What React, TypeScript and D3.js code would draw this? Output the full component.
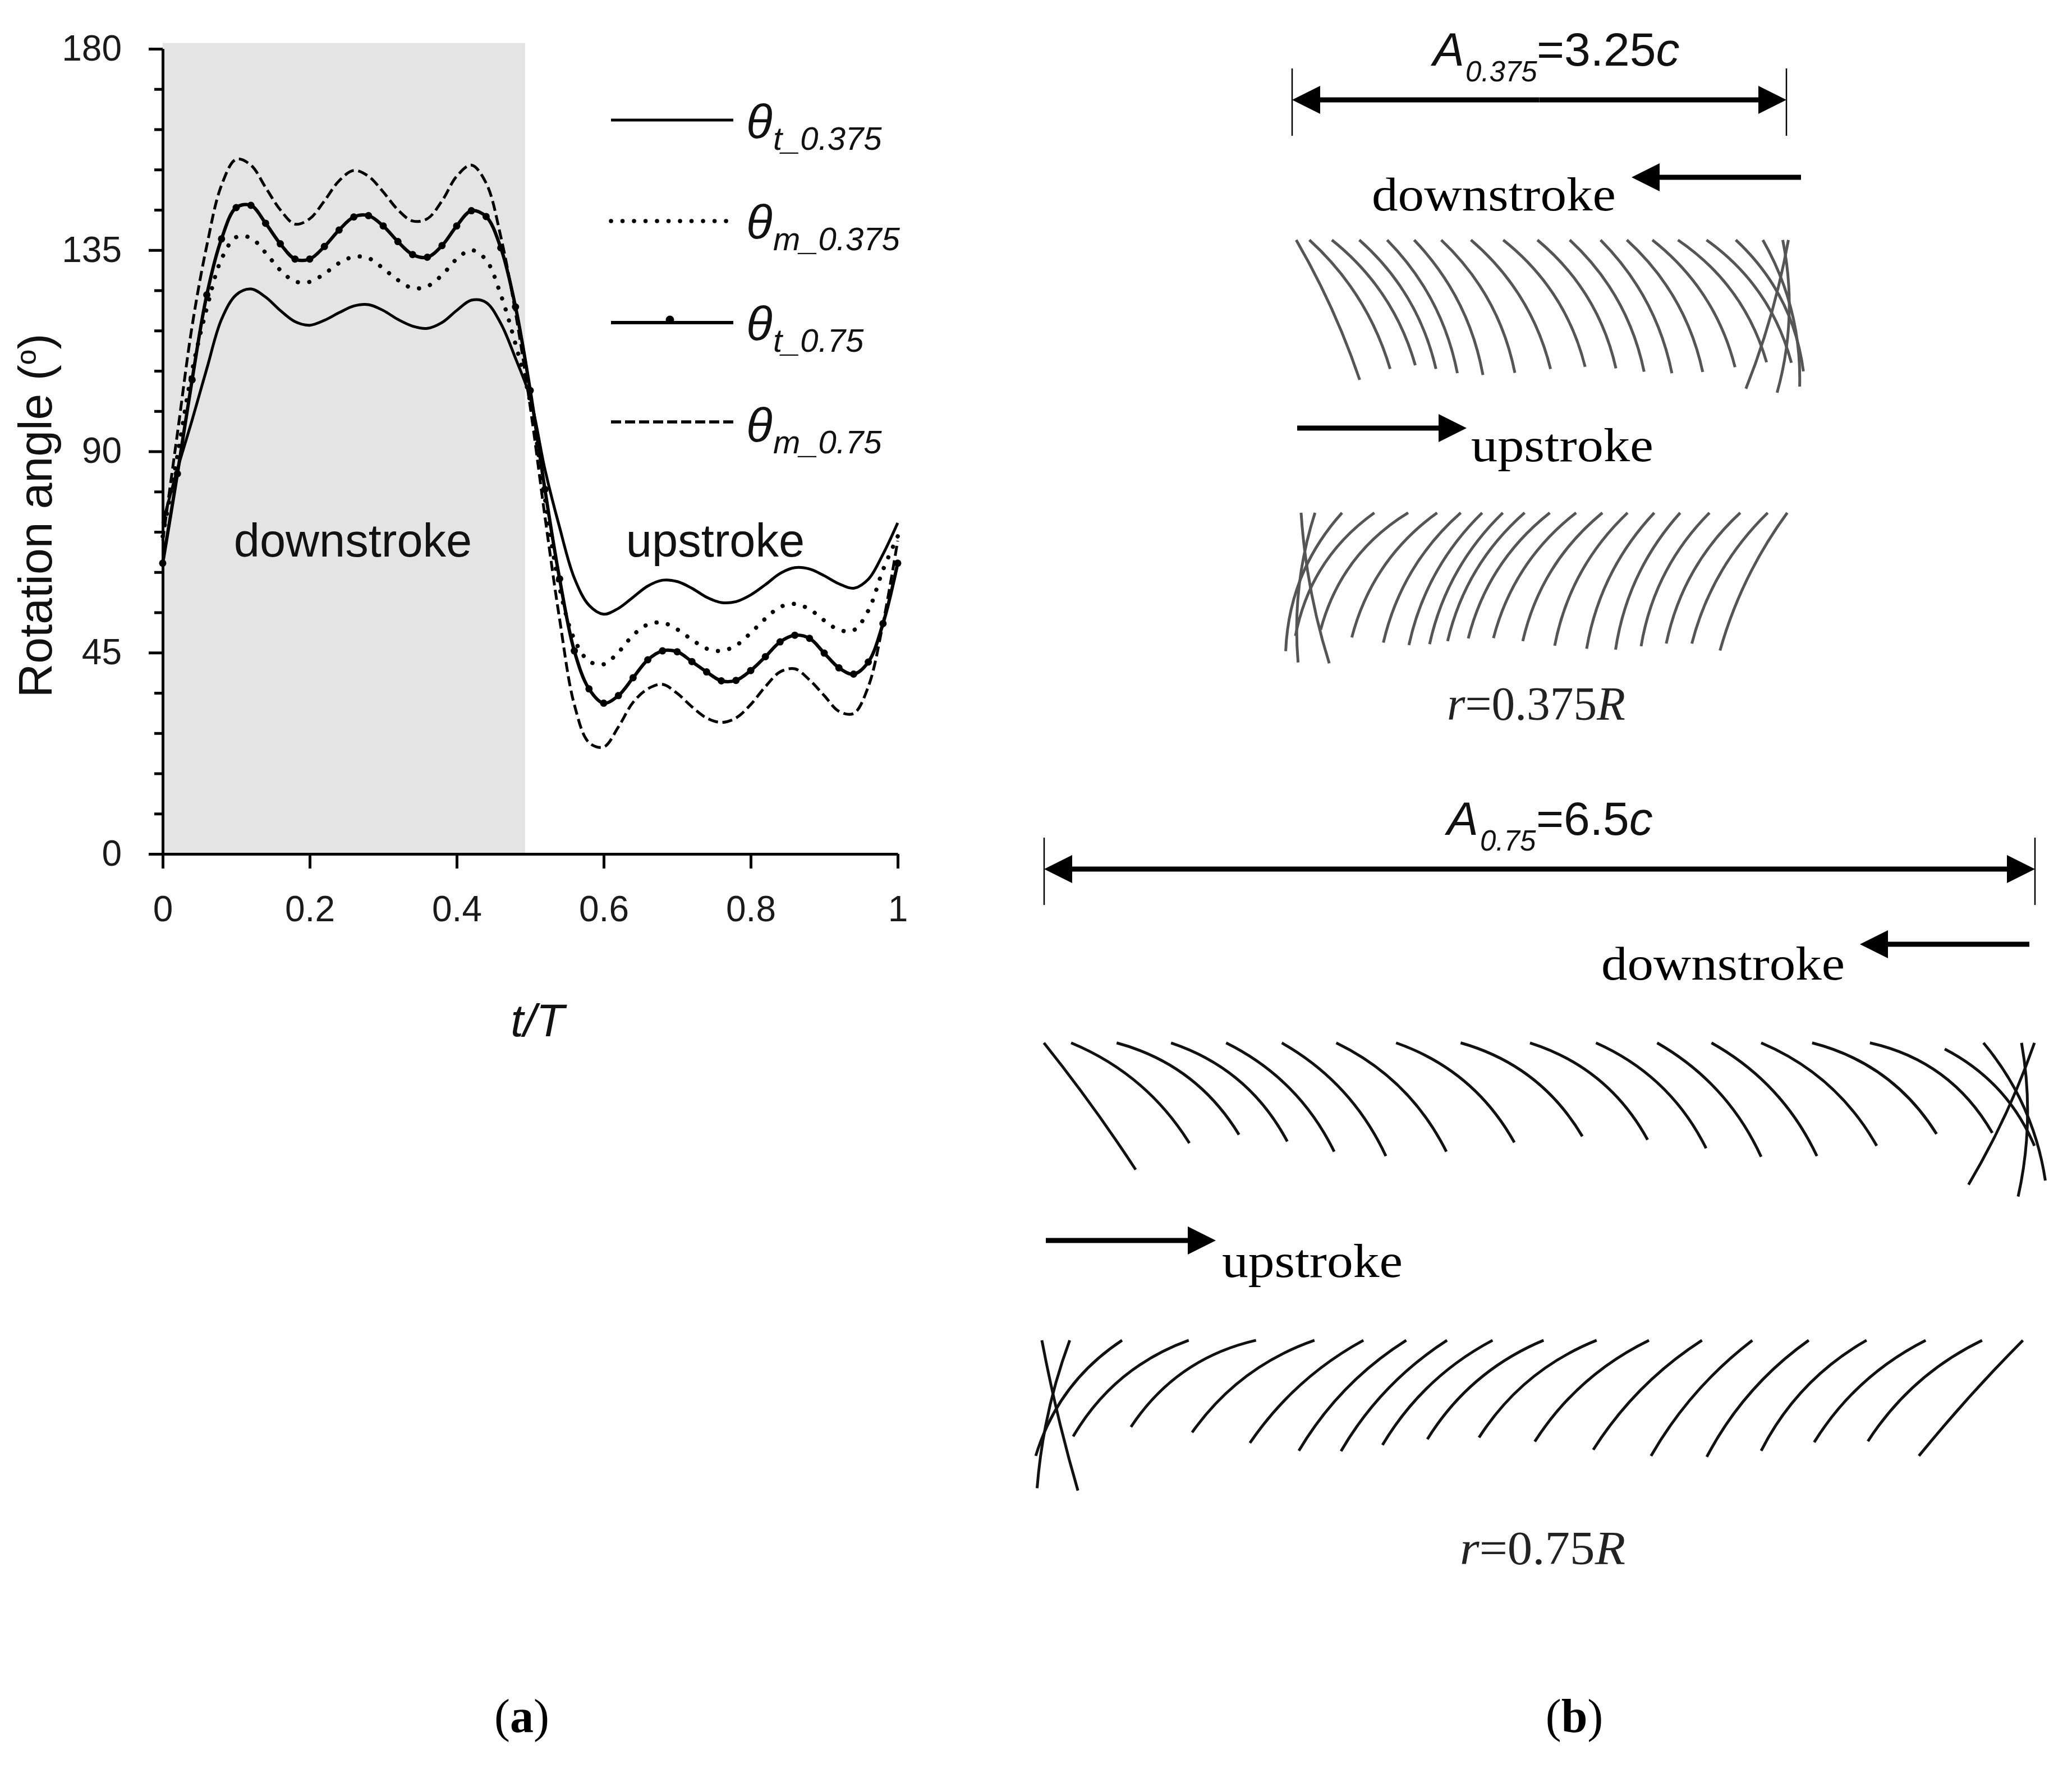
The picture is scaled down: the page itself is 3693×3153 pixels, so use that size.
import React, { useEffect, useRef } from 'react';
import * as d3 from 'd3';

const W = 3693;
const H = 3153;

// every series is sampled at t/T = 0, 0.02, ... 1
const tValues = [0, .02, .04, .06, .08, .1, .12, .14, .16, .18, .2, .22, .24, .26, .28, .3, .32, .34, .36, .38, .4, .42, .44, .46, .48, .5,
    .52, .54, .56, .58, .6, .62, .64, .66, .68, .7, .72, .74, .76, .78, .8, .82, .84, .86, .88, .9, .92, .94, .96, .98, 1];

const thetaT375 = [74, 86, 97, 108.5, 119.5, 125, 126.3, 124.5, 121.5, 119, 118.2, 119.3, 121, 122.5, 122.8, 121.5, 119.5, 118, 117.5, 118.8, 121.5, 123.8, 123.3, 118.6, 110.8, 102,
    86, 73, 61.7, 55.6, 53.6, 54.9, 57.4, 59.9, 61.2, 60.9, 59.4, 57.4, 56.2, 56.4, 57.9, 60.2, 62.7, 64, 63.7, 62.2, 60.4, 59.4, 61.4, 67, 74];
const thetaM375 = [71, 89, 108, 122, 133, 137.9, 137.7, 134.4, 130.5, 128, 127.9, 129.7, 132.1, 133.5, 133.2, 130.9, 128.3, 126.5, 126.9, 129.4, 133, 135, 132.8, 125, 114, 101,
    79.5, 59.5, 48, 43.1, 42.4, 45.1, 48.9, 51.3, 51.7, 50.2, 47.9, 45.9, 45.4, 46.6, 49.4, 52.6, 55.2, 55.9, 54.7, 52.2, 50.1, 50, 54.4, 63.5, 71];
const thetaT75 = [65, 85, 106, 125, 137.5, 144.5, 145, 141, 136.4, 133, 133, 135.8, 139.5, 142.4, 142.7, 140.4, 136.9, 134, 133.4, 136, 140.4, 143.8, 142.5, 135.5, 122.3, 103.6,
    81.5, 61.5, 45.4, 36.9, 33.7, 35.4, 39.4, 43.4, 45.4, 45.2, 43, 40.7, 38.7, 38.8, 41, 44.1, 47.4, 48.9, 48.2, 44.9, 41.6, 40.2, 42.9, 51.5, 65];
const thetaM75 = [70, 94, 118, 136, 149.5, 155.3, 154, 149, 144, 140.8, 142, 146, 150.5, 152.8, 151.5, 148, 144, 141.5, 142, 146, 151.5, 154, 150, 138, 121, 100,
    75.5, 52.5, 33.4, 24.9, 23.9, 28.4, 33.9, 36.9, 37.9, 35.9, 32.9, 30.4, 29.4, 30.4, 33.4, 37.4, 40.7, 41.4, 38.9, 35.4, 31.9, 31.4, 37.4, 51.5, 70];

const yMajorTicks = [0, 45, 90, 135, 180];
const yMinorTicks = [9, 18, 27, 36, 54, 63, 72, 81, 99, 108, 117, 126, 144, 153, 162, 171];
const xTicks = [0, .2, .4, .6, .8, 1];

// wing chord traces: top x, top y, bottom x, bottom y, bend (in reading units of each panel)
type Blade = [number, number, number, number, number];

const down375: Blade[] = [
    [90, 88, 259, 548, .025], [125, 88, 340, 512, .07], [185, 88, 407, 500, .08], [258, 88, 462, 512, .08], [332, 88, 519, 526, .075],
    [404, 88, 587, 532, .075], [476, 88, 672, 525, .08], [555, 88, 767, 512, .08], [641, 88, 859, 505, .085], [732, 88, 941, 510, .085],
    [818, 88, 1016, 521, .08], [900, 88, 1090, 526, .075], [970, 88, 1172, 522, .08], [1038, 88, 1258, 506, .085], [1106, 88, 1342, 490, .09],
    [1182, 88, 1408, 492, .09], [1260, 88, 1440, 520, .09], [1332, 88, 1430, 570, .07], [1385, 88, 1370, 590, .06], [1400, 88, 1287, 577, .025],
];
const up375: Blade[] = [
    [1397, 985, 1218, 1438, -.045], [1345, 985, 1143, 1415, -.07], [1272, 985, 1075, 1415, -.08], [1190, 985, 1008, 1424, -.08], [1112, 985, 940, 1435, -.075],
    [1043, 985, 863, 1432, -.075], [972, 985, 778, 1422, -.08], [905, 985, 693, 1407, -.085], [835, 985, 615, 1397, -.085], [765, 985, 548, 1398, -.085],
    [698, 985, 493, 1407, -.08], [640, 985, 445, 1417, -.075], [585, 985, 390, 1420, -.075], [528, 985, 322, 1412, -.08], [465, 985, 238, 1395, -.09],
    [388, 985, 155, 1370, -.1], [298, 985, 88, 1390, -.1], [212, 985, 62, 1440, -.09], [140, 985, 95, 1477, -.05], [103, 985, 178, 1480, -.03],
];
const down75: Blade[] = [
    [50, 130, 185, 503, .012], [90, 130, 264, 425, .08], [157, 130, 337, 400, .1], [237, 130, 408, 420, .1], [318, 130, 477, 450, .085],
    [400, 130, 553, 463, .08], [480, 130, 642, 450, .085], [568, 130, 742, 423, .095], [663, 130, 842, 405, .1], [765, 130, 938, 415, .1],
    [862, 130, 1024, 440, .09], [952, 130, 1105, 465, .08], [1032, 130, 1187, 463, .08], [1105, 130, 1275, 433, .085], [1180, 130, 1363, 398, .1],
    [1265, 130, 1445, 395, .11], [1375, 148, 1507, 433, .09], [1432, 130, 1523, 535, .07], [1488, 130, 1483, 582, .05], [1507, 130, 1410, 547, .025],
];
const up75: Blade[] = [
    [1490, 1005, 1337, 1345, -.012], [1430, 1005, 1262, 1302, -.07], [1347, 1005, 1183, 1305, -.07], [1260, 1005, 1105, 1330, -.075], [1175, 1005, 1025, 1348, -.06],
    [1092, 1005, 943, 1345, -.05], [1018, 1005, 858, 1327, -.055], [940, 1005, 772, 1303, -.07], [863, 1005, 690, 1291, -.08], [785, 1005, 614, 1296, -.08],
    [710, 1005, 548, 1313, -.07], [643, 1005, 487, 1331, -.06], [583, 1005, 425, 1330, -.06], [520, 1005, 353, 1307, -.06], [448, 1005, 268, 1276, -.08],
    [362, 1005, 178, 1260, -.1], [263, 1005, 93, 1288, -.09], [165, 1005, 38, 1345, -.09], [88, 1005, 40, 1440, -.035], [47, 1005, 100, 1447, -.012],
];

const SANS = '"Liberation Sans", Arial, sans-serif';
const SERIF = '"Liberation Serif", serif';

export default function App() {
    const svgRef = useRef<SVGSVGElement>(null);

    useEffect(() => {
        if (!svgRef.current) return;
        const svg = d3.select(svgRef.current);
        svg.selectAll("*").remove();

        svg.append("rect").attr("width", W).attr("height", H).attr("fill", "#fff");

        // ---- panel (a)
        const x = d3.scaleLinear().domain([0, 1]).range([290, 1600]);
        const y = d3.scaleLinear().domain([0, 180]).range([1522, 87]);

        svg.append("rect")
            .attr("x", x(0)).attr("y", y(181.3))
            .attr("width", x(0.493) - x(0)).attr("height", y(0) - y(181.3))
            .attr("fill", "#e4e4e4");

        const styleAxis = (g: any) => {
            g.attr("font-family", SANS).attr("font-size", 64).attr("fill", "#000");
            g.selectAll("path,line").attr("stroke", "#000").attr("stroke-width", 5);
            g.selectAll("text").attr("fill", "#1a1a1a");
        };

        svg.append("g")
            .attr("transform", `translate(${x(0)},0)`)
            .call(d3.axisLeft(y).tickValues(yMinorTicks).tickSize(15).tickSizeOuter(0).tickFormat(() => ""))
            .call(styleAxis);
        svg.append("g")
            .attr("transform", `translate(${x(0)},0)`)
            .call(d3.axisLeft(y).tickValues(yMajorTicks).tickSize(25).tickSizeOuter(0).tickPadding(48))
            .call(styleAxis);
        svg.append("g")
            .attr("transform", `translate(0,${y(0)})`)
            .call(d3.axisBottom(x).tickValues(xTicks).tickSize(26).tickSizeOuter(0).tickPadding(49).tickFormat(d3.format("~g") as any))
            .call(styleAxis);

        const line = d3.line<number>()
            .x((_, i) => x(tValues[i]))
            .y(d => y(d))
            .curve(d3.curveCatmullRom);

        svg.append("path").datum(thetaT375).attr("d", line).attr("fill", "none").attr("stroke", "#000").attr("stroke-width", 5);
        svg.append("path").datum(thetaM375).attr("d", line).attr("fill", "none").attr("stroke", "#000").attr("stroke-width", 7.5)
            .attr("stroke-linecap", "round").attr("stroke-dasharray", "0.1 20.4");
        svg.append("path").datum(thetaM75).attr("d", line).attr("fill", "none").attr("stroke", "#000").attr("stroke-width", 5)
            .attr("stroke-dasharray", "18 8");
        svg.append("path").datum(thetaT75).attr("d", line).attr("fill", "none").attr("stroke", "#000").attr("stroke-width", 6);
        svg.append("g").selectAll("circle").data(thetaT75).enter().append("circle")
            .attr("cx", (_, i) => x(tValues[i])).attr("cy", d => y(d)).attr("r", 6.5).attr("fill", "#000");

        const sans = (tx: number, ty: number, size: number, anchor = "start") =>
            svg.append("text").attr("x", tx).attr("y", ty)
                .attr("font-family", SANS).attr("font-size", size).attr("text-anchor", anchor).attr("fill", "#111");

        sans(629, 992, 83, "middle").text("downstroke");
        sans(1275, 992, 83, "middle").text("upstroke");
        sans(958, 1847, 82, "middle").attr("font-style", "italic").text("t/T");

        const yLabel = svg.append("text")
            .attr("transform", "translate(92,919) rotate(-90)")
            .attr("font-family", SANS).attr("font-size", 84).attr("text-anchor", "middle").attr("fill", "#111");
        yLabel.append("tspan").text("Rotation angle (");
        yLabel.append("tspan").attr("font-size", 50).attr("dy", -28).text("o");
        yLabel.append("tspan").attr("dy", 28).text(")");

        // legend
        const legendLines = [214, 394, 575, 752];
        const legendStyles: [number, string | null][] = [[5, null], [7.5, "0.1 20.4"], [6, null], [5.5, "18 7"]];
        legendLines.forEach((ly, i) => {
            const p = svg.append("line").attr("x1", 1089).attr("x2", 1307).attr("y1", ly).attr("y2", ly)
                .attr("stroke", "#000").attr("stroke-width", legendStyles[i][0]);
            if (legendStyles[i][1]) p.attr("stroke-dasharray", legendStyles[i][1]!);
            if (i === 1) p.attr("stroke-linecap", "round");
        });
        svg.append("circle").attr("cx", 1194).attr("cy", 570).attr("r", 7.5).attr("fill", "#000");

        const legendBase = [246, 425, 606, 787];
        const legendSub = ["t_0.375", "m_0.375", "t_0.75", "m_0.75"];
        legendBase.forEach((ly, i) => {
            sans(1330, ly, 86).attr("font-style", "italic").text("θ");
            sans(1378, ly + 21, 58).attr("font-style", "italic").text(legendSub[i]);
        });

        // ---- panel (b)
        const x375 = d3.scaleLinear().domain([0, 1568]).range([2250, 3300]);
        const y375 = d3.scaleLinear().domain([0, 1568]).range([380, 1230]);
        const x75 = d3.scaleLinear().domain([0, 1568]).range([1800, 3700]);
        const y75 = d3.scaleLinear().domain([0, 1568]).range([1780, 2730]);

        const bladePath = (b: Blade, xs: d3.ScaleLinear<number, number>, ys: d3.ScaleLinear<number, number>) => {
            const [x0, y0, x1, y1] = [xs(b[0]), ys(b[1]), xs(b[2]), ys(b[3])];
            const p = d3.path();
            p.moveTo(x0, y0);
            p.quadraticCurveTo((x0 + x1) / 2 + 2 * b[4] * (y1 - y0), (y0 + y1) / 2 - 2 * b[4] * (x1 - x0), x1, y1);
            return p.toString();
        };

        const drawBlades = (data: Blade[], xs: any, ys: any, color: string, width: number) => {
            svg.append("g").selectAll("path").data(data).enter().append("path")
                .attr("d", d => bladePath(d, xs, ys))
                .attr("fill", "none").attr("stroke", color).attr("stroke-width", width);
        };
        drawBlades(down375, x375, y375, "#555", 5);
        drawBlades(up375, x375, y375, "#555", 5);
        drawBlades(down75, x75, y75, "#111", 5);
        drawBlades(up75, x75, y75, "#111", 5);

        const arrow = (x0: number, x1: number, ay: number) => {
            const dir = x1 > x0 ? 1 : -1;
            svg.append("line").attr("x1", x0).attr("x2", x1 - dir * 40).attr("y1", ay).attr("y2", ay)
                .attr("stroke", "#000").attr("stroke-width", 9);
            svg.append("path").attr("fill", "#000")
                .attr("d", `M${x1},${ay}L${x1 - dir * 50},${ay - 25}L${x1 - dir * 50},${ay + 25}Z`);
        };
        const dimension = (x0: number, x1: number, ay: number, y0: number, y1: number) => {
            arrow((x0 + x1) / 2, x0, ay);
            arrow((x0 + x1) / 2, x1, ay);
            [x0, x1].forEach(tx => svg.append("line").attr("x1", tx).attr("x2", tx).attr("y1", y0).attr("y2", y1)
                .attr("stroke", "#000").attr("stroke-width", 2.5));
        };

        dimension(2303, 3184, 178, 122, 242);
        dimension(1861, 3627, 1549, 1493, 1613);
        arrow(3210, 2908, 316);
        arrow(2312, 2614, 763);
        arrow(3617, 3315, 1683);
        arrow(1864, 2167, 2211);

        sans(2554, 117, 84).attr("font-style", "italic").text("A");
        sans(2612, 145, 51).attr("font-style", "italic").text("0.375");
        const eq1 = sans(2739, 117, 84);
        eq1.append("tspan").text("=3.25");
        eq1.append("tspan").attr("font-style", "italic").text("c");

        sans(2579, 1488, 84).attr("font-style", "italic").text("A");
        sans(2638, 1516, 51).attr("font-style", "italic").text("0.75");
        const eq2 = sans(2738, 1488, 84);
        eq2.append("tspan").text("=6.5");
        eq2.append("tspan").attr("font-style", "italic").text("c");

        const serif = (tx: number, ty: number, width: number, label: string) =>
            svg.append("text").attr("x", tx).attr("y", ty).attr("font-family", SERIF).attr("font-size", 84)
                .attr("fill", "#000").attr("textLength", width).attr("lengthAdjust", "spacingAndGlyphs").text(label);

        serif(2445, 375, 435, "downstroke");
        serif(2622, 822, 325, "upstroke");
        serif(2854, 1746, 434, "downstroke");
        serif(2178, 2276, 322, "upstroke");

        const radius = (tx: number, ty: number, width: number, value: string) => {
            const t = svg.append("text").attr("x", tx).attr("y", ty).attr("font-family", SERIF).attr("font-size", 84)
                .attr("fill", "#222").attr("textLength", width).attr("lengthAdjust", "spacingAndGlyphs");
            t.append("tspan").attr("font-style", "italic").text("r");
            t.append("tspan").text(value);
            t.append("tspan").attr("font-style", "italic").text("R");
        };
        radius(2579, 1283, 318, "=0.375");
        radius(2602, 2788, 295, "=0.75");

        const caption = (cx: number, letter: string) => {
            const t = svg.append("text").attr("x", cx).attr("y", 3087).attr("font-family", SERIF).attr("font-size", 84)
                .attr("text-anchor", "middle").attr("fill", "#000");
            t.append("tspan").text("(");
            t.append("tspan").attr("font-weight", "bold").text(letter);
            t.append("tspan").text(")");
        };
        caption(930, "a");
        caption(2806, "b");
    }, []);

    return <svg ref={svgRef} width={W} height={H} viewBox={`0 0 ${W} ${H}`} style={{ position: 'absolute', left: 0, top: 0, display: 'block' }} />;
}
